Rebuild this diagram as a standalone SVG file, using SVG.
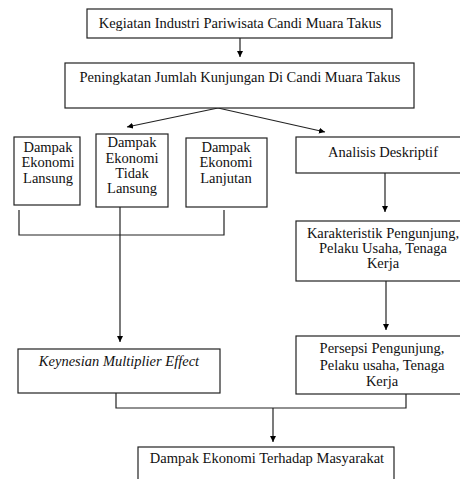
<svg xmlns="http://www.w3.org/2000/svg" width="460" height="479" viewBox="0 0 460 479">
<defs>
<marker id="ah" viewBox="0 0 10 10" refX="10" refY="5" markerWidth="6" markerHeight="7" orient="auto" markerUnits="userSpaceOnUse">
<path d="M0,0 L10,5 L0,10 z" fill="#000"/>
</marker>
<style>
.box{fill:#fff;stroke:#222;stroke-width:1.2}
.ln{fill:none;stroke:#222;stroke-width:1.2}
</style>
</defs>
<rect width="460" height="479" fill="#fff"/>
<g id="connectors">
<line class="ln" x1="240" y1="38" x2="240" y2="57" marker-end="url(#ah)"/>
<line class="ln" x1="218" y1="108" x2="127" y2="127" marker-end="url(#ah)"/>
<line class="ln" x1="218" y1="108" x2="325" y2="132" marker-end="url(#ah)"/>
<polyline class="ln" points="19,210 19,235 224,235 224,210"/>
<line class="ln" x1="120" y1="207" x2="120" y2="342" marker-end="url(#ah)"/>
<line class="ln" x1="385" y1="173" x2="385" y2="212" marker-end="url(#ah)"/>
<line class="ln" x1="386" y1="281" x2="386" y2="330" marker-end="url(#ah)"/>
<polyline class="ln" points="116,393 116,408 406,408 406,394"/>
<line class="ln" x1="273" y1="408" x2="273" y2="442" marker-end="url(#ah)"/>
</g>
<g id="n1"><rect class="box" x="87" y="9" width="305" height="29"/><text font-family="Liberation Serif" font-size="14.5" fill="#111" text-anchor="middle" x="240" y="28">Kegiatan Industri Pariwisata Candi Muara Takus</text></g>
<g id="n2"><rect class="box" x="65" y="63" width="349" height="45"/><text font-family="Liberation Serif" font-size="14.5" fill="#111" text-anchor="middle" x="240" y="82">Peningkatan Jumlah Kunjungan Di Candi Muara Takus</text></g>
<g id="n3"><rect class="box" x="14" y="137" width="66" height="68"/><text font-family="Liberation Serif" font-size="14.5" fill="#111" text-anchor="middle" x="48" y="152">Dampak</text><text font-family="Liberation Serif" font-size="14.5" fill="#111" text-anchor="middle" x="48" y="167">Ekonomi</text><text font-family="Liberation Serif" font-size="14.5" fill="#111" text-anchor="middle" x="48" y="183">Lansung</text></g>
<g id="n4"><rect class="box" x="96" y="134" width="72" height="73"/><text font-family="Liberation Serif" font-size="14.5" fill="#111" text-anchor="middle" x="132" y="147">Dampak</text><text font-family="Liberation Serif" font-size="14.5" fill="#111" text-anchor="middle" x="132" y="163">Ekonomi</text><text font-family="Liberation Serif" font-size="14.5" fill="#111" text-anchor="middle" x="132" y="178">Tidak</text><text font-family="Liberation Serif" font-size="14.5" fill="#111" text-anchor="middle" x="132" y="193">Lansung</text></g>
<g id="n5"><rect class="box" x="186" y="138" width="81" height="69"/><text font-family="Liberation Serif" font-size="14.5" fill="#111" text-anchor="middle" x="226" y="152">Dampak</text><text font-family="Liberation Serif" font-size="14.5" fill="#111" text-anchor="middle" x="226" y="167">Ekonomi</text><text font-family="Liberation Serif" font-size="14.5" fill="#111" text-anchor="middle" x="226" y="183">Lanjutan</text></g>
<g id="n6"><rect class="box" x="296" y="137" width="174" height="36"/><text font-family="Liberation Serif" font-size="14.5" fill="#111" text-anchor="middle" x="383" y="157">Analisis Deskriptif</text></g>
<g id="n7"><rect class="box" x="296" y="221" width="174" height="60"/><text font-family="Liberation Serif" font-size="14.5" fill="#111" text-anchor="middle" x="383" y="238">Karakteristik Pengunjung,</text><text font-family="Liberation Serif" font-size="14.5" fill="#111" text-anchor="middle" x="383" y="253">Pelaku Usaha, Tenaga</text><text font-family="Liberation Serif" font-size="14.5" fill="#111" text-anchor="middle" x="383" y="268">Kerja</text></g>
<g id="n8"><rect class="box" x="296" y="336" width="174" height="58"/><text font-family="Liberation Serif" font-size="14.5" fill="#111" text-anchor="middle" x="382" y="353">Persepsi Pengunjung,</text><text font-family="Liberation Serif" font-size="14.5" fill="#111" text-anchor="middle" x="382" y="370">Pelaku usaha, Tenaga</text><text font-family="Liberation Serif" font-size="14.5" fill="#111" text-anchor="middle" x="382" y="386">Kerja</text></g>
<g id="n9"><rect class="box" x="18" y="349" width="202" height="44"/><text font-family="Liberation Serif" font-size="14.5" font-style="italic" fill="#111" text-anchor="middle" x="119" y="366">Keynesian Multiplier Effect</text></g>
<g id="n10"><rect class="box" x="138" y="447" width="256" height="40"/><text font-family="Liberation Serif" font-size="14.5" fill="#111" text-anchor="middle" x="267" y="463">Dampak Ekonomi Terhadap Masyarakat</text></g>
</svg>
